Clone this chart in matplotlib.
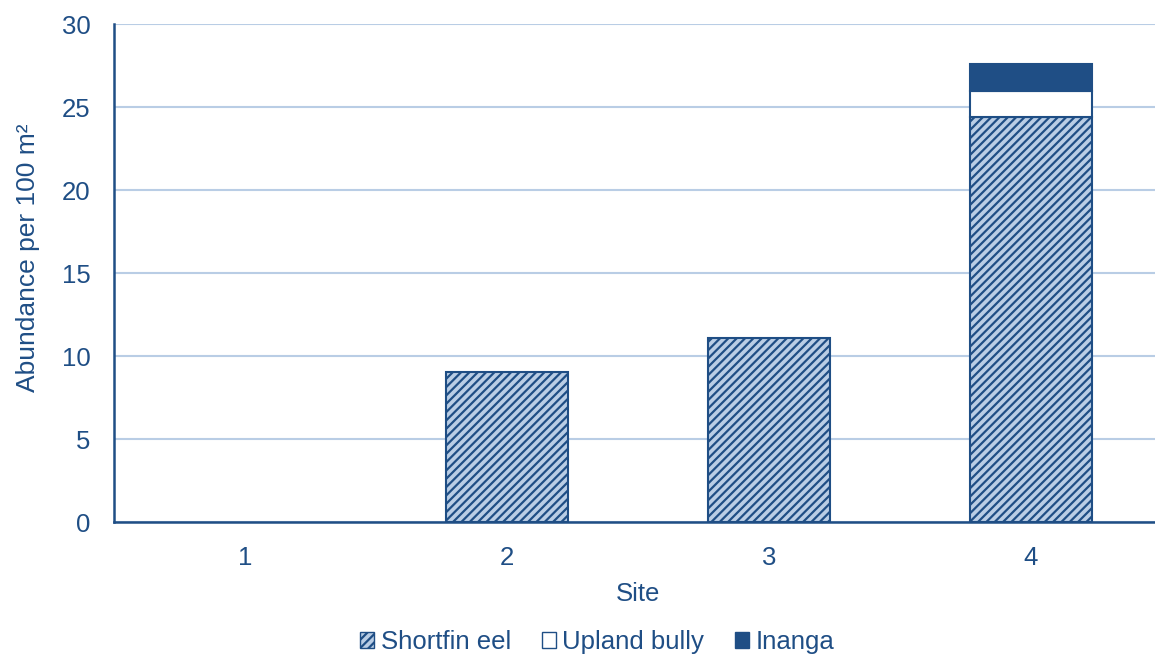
import numpy as np
import matplotlib.pyplot as plt
from matplotlib.patches import Patch

plt.rcParams['font.family'] = ['Liberation Sans', 'DejaVu Sans']
plt.rcParams['hatch.color'] = '#1F4E85'
plt.rcParams['hatch.linewidth'] = 1.6

# Fish abundance per site (per 100 m2)
sites = ['1', '2', '3', '4']
shortfin_eel = [0.0, 9.05, 11.1, 24.4]
upland_bully = [0.0, 0.0, 0.0, 1.55]
inanga = [0.0, 0.0, 0.0, 1.65]

dark = '#1F4E85'
light = '#B9CDE5'
text_col = '#1F4E85'
fs = 18.5

fig = plt.figure(figsize=(11.55, 6.54), dpi=100)
ax = fig.add_axes([0.0987, 0.2018, 0.9074, 0.7615])

x = np.arange(len(sites))
w = 0.466
bottom = np.zeros(len(sites))

series = [
    (shortfin_eel, dict(color=light, hatch='////')),
    (upland_bully, dict(color='white')),
    (inanga, dict(color=dark)),
]
for vals, style in series:
    vals = np.array(vals)
    keep = vals > 0  # empty segments would leave a stray edge line
    ax.bar(x[keep], vals[keep], w, bottom=bottom[keep], edgecolor=dark,
           linewidth=1.5, zorder=3, **style)
    bottom = bottom + vals

ax.set_xlim(-0.5, 3.5)
ax.set_ylim(0, 30)
ax.set_yticks(range(0, 31, 5))
ax.set_xticks(x)
ax.set_xticklabels(sites)
ax.yaxis.grid(True, color=light, linewidth=1.5, zorder=0)
ax.set_axisbelow(True)

for s in ['top', 'right']:
    ax.spines[s].set_visible(False)
for s in ['left', 'bottom']:
    ax.spines[s].set_color(dark)
    ax.spines[s].set_linewidth(1.8)

ax.tick_params(axis='both', length=0, labelsize=fs, colors=text_col)
ax.tick_params(axis='y', pad=17)
ax.tick_params(axis='x', pad=17)

ax.set_xlabel('Site', fontsize=fs, color=text_col, labelpad=9)
ax.set_ylabel('Abundance per 100 m²', fontsize=19, color=text_col)
ax.yaxis.set_label_coords(-0.071, 0.53)

handles = [
    Patch(facecolor=light, edgecolor=dark, hatch='////', label='Shortfin eel'),
    Patch(facecolor='white', edgecolor=dark, label='Upland bully'),
    Patch(facecolor=dark, edgecolor=dark, label='Inanga'),
]
leg = fig.legend(handles=handles, loc='center', bbox_to_anchor=(0.517, 0.018), ncol=3,
                 frameon=False, fontsize=fs, handlelength=0.55, handleheight=0.55,
                 handletextpad=0.25, columnspacing=1.2)
for t in leg.get_texts():
    t.set_color(text_col)

fig.savefig('out.png', dpi=100)
